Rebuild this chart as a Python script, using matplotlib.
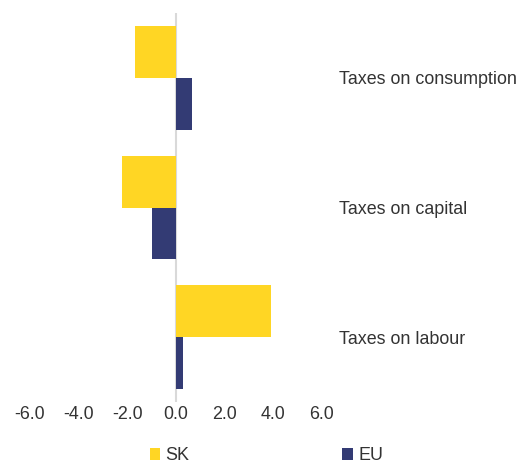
import matplotlib.pyplot as plt
import numpy as np

plt.rcParams['font.family'] = ['Liberation Sans', 'DejaVu Sans']

categories = ["Taxes on consumption", "Taxes on capital", "Taxes on labour"]
sk_values = [-1.7, -2.2, 3.9]
eu_values = [0.65, -1.0, 0.3]
x_ticks = [-6.0, -4.0, -2.0, 0.0, 2.0, 4.0, 6.0]

yellow = "#FFD624"
navy = "#333B74"
fs = 12.9

fig = plt.figure(figsize=(5.22, 4.66), dpi=100)
ax = fig.add_axes([30 / 522, 1 - 402 / 466, 292 / 522, 389 / 466])

pos = np.arange(len(categories))
ax.barh(pos - 0.2, sk_values, height=0.4, color=yellow, label="SK")
ax.barh(pos + 0.2, eu_values, height=0.4, color=navy, label="EU")
ax.axvline(0, color="#D9D9D9", lw=1.5, zorder=0)

ax.set_xlim(-6, 6)
ax.set_ylim(len(categories) - 0.5, -0.5)
ax.set_xticks(x_ticks)
ax.set_xticklabels([f"{v:.1f}" for v in x_ticks], fontsize=fs, color="#333333")
ax.set_yticks(pos)
ax.set_yticklabels(categories, fontsize=fs, color="#333333")
ax.yaxis.tick_right()
ax.tick_params(axis="y", length=0, pad=12)
ax.tick_params(axis="x", length=0, pad=3)
for s in ax.spines.values():
    s.set_visible(False)

fig.legend(loc="center", bbox_to_anchor=(0.51, 0.022), ncol=2, frameon=False,
           fontsize=fs, handlelength=0.6, handleheight=0.6, handletextpad=0.3,
           columnspacing=8.5, labelcolor="#333333")

fig.savefig("out.png", dpi=100)
